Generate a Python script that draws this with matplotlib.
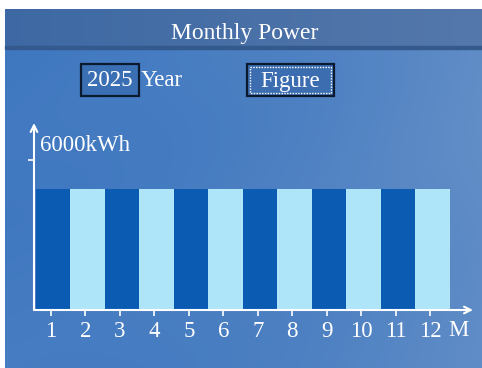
import numpy as np
import matplotlib.pyplot as plt
from matplotlib.patches import Rectangle

# monthly energy data
months = [1, 2, 3, 4, 5, 6, 7, 8, 9, 10, 11, 12]
energy_kwh = [4840, 4840, 4840, 4840, 4840, 4840, 4840, 4840, 4840, 4840, 4840, 4840]
bar_colors = ['#0b5bb3', '#aee5f8'] * 6
tick_labels = [str(m) for m in months]
year_label = "2025"
y_mark = 6000

FONT = ['Liberation Serif', 'DejaVu Serif']
W, H = 482, 368

fig = plt.figure(figsize=(W / 100, H / 100), dpi=100)
fig.patch.set_facecolor('white')

# screen background (sky gradient) in pixel coordinates
bg = fig.add_axes([0, 0, 1, 1])
bg.set_xlim(0, W)
bg.set_ylim(H, 0)
bg.axis('off')

sh, sw = 359, 477
yy, xx = np.mgrid[0:sh, 0:sw]
u = xx / sw
v = yy / sh
dark = np.array([0.24, 0.465, 0.75])
light = np.array([0.44, 0.59, 0.79])
t = np.clip(0.5 * u ** 2 + 0.2 * (1 - v) * u + 0.12 * v + 0.06 * np.sin(3 * u + 5 * v) ** 2, 0, 1)
img = dark[None, None, :] * (1 - t[..., None]) + light[None, None, :] * t[..., None]
bg.imshow(img, extent=(5, W, H, 9), aspect='auto', zorder=0)

# title bar
tb = np.linspace(0, 1, 200)
bar_img = np.array([0.24, 0.41, 0.64])[None, :] * (1 - tb[:, None]) + np.array([0.33, 0.47, 0.67])[None, :] * tb[:, None]
bg.imshow(bar_img[None, :, :], extent=(5, W, 47, 9), aspect='auto', zorder=1)
bg.add_patch(Rectangle((5, 46), W - 5, 3, color='#34598c', zorder=2))
bg.text(245, 33, "Monthly Power", color='white', fontsize=17, family=FONT,
        ha='center', va='center', zorder=3)

# year selector and mode button
bg.add_patch(Rectangle((81, 64), 58, 32, facecolor='#3a6fb3', edgecolor='#0c1a30', lw=1.6, zorder=3))
bg.text(110, 81, year_label, color='white', fontsize=16.5, family=FONT, ha='center', va='center', zorder=4)
bg.text(141, 81, "Year", color='white', fontsize=16.5, family=FONT, ha='left', va='center', zorder=4)
bg.add_patch(Rectangle((247, 64), 87, 32, facecolor='#3b6db0', edgecolor='#0c1a30', lw=1.6, zorder=3))
bg.add_patch(Rectangle((250, 67), 81, 26, facecolor='none', edgecolor='white', lw=1.0,
                       linestyle=(0, (1, 1)), zorder=4))
bg.text(290, 81, "Figure", color='white', fontsize=16.5, family=FONT, ha='center', va='center', zorder=4)

# bar chart area
x0, x1, ytop, ybase = 34, 473, 123, 310
ax = fig.add_axes([x0 / W, (H - ybase) / H, (x1 - x0) / W, (ybase - ytop) / H])
ax.patch.set_alpha(0)
ax.set_xlim(0.45, 13.18)
ax.set_ylim(0, 7480)
for s in ax.spines.values():
    s.set_visible(False)

ax.bar(months, energy_kwh, width=1.0, color=bar_colors, zorder=2)

# axes drawn as arrows
arrow = dict(arrowstyle='->', color='white', lw=1.5, mutation_scale=12, shrinkA=0, shrinkB=0)
ax.annotate('', xy=(0, 1), xytext=(0, 0), xycoords='axes fraction', arrowprops=arrow, zorder=5)
ax.annotate('', xy=(1, 0), xytext=(0, 0), xycoords='axes fraction', arrowprops=arrow, zorder=5)

ax.set_xticks([m - 0.06 for m in months])
ax.set_xticklabels(tick_labels, family=FONT, fontsize=16.5, color='white')
ax.tick_params(axis='x', length=4, width=1.2, color='white', pad=4)
ax.set_yticks([y_mark])
ax.set_yticklabels([])
ax.tick_params(axis='y', length=4, width=1.2, color='white')
ax.text(0.014, y_mark + 150, f"{y_mark}kWh", transform=ax.get_yaxis_transform(),
        family=FONT, fontsize=16.5, color='white', ha='left', va='bottom')
fig.text(458 / W, (H - 331) / H, "M", family=FONT, fontsize=16.5, color='white',
         ha='center', va='center')

fig.savefig('out.png', dpi=100)
